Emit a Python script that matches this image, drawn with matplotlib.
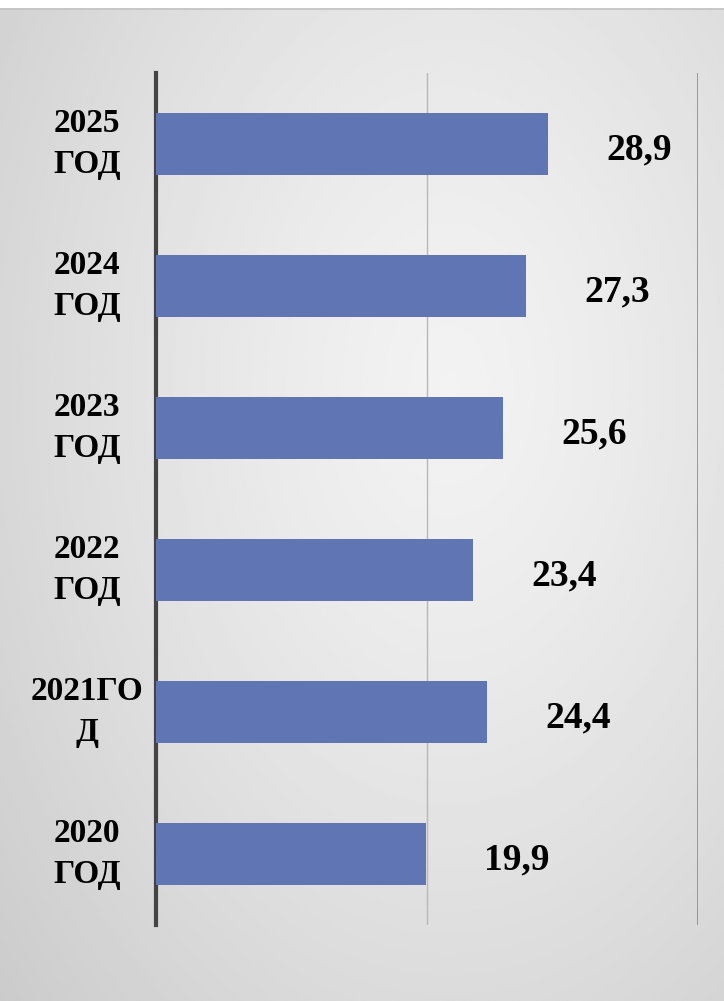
import numpy as np
import matplotlib
matplotlib.use("Agg")
import matplotlib.pyplot as plt
from matplotlib.transforms import blended_transform_factory

years = ["2020\nГОД", "2021ГО\nД", "2022\nГОД", "2023\nГОД", "2024\nГОД", "2025\nГОД"]
values = [19.9, 24.4, 23.4, 25.6, 27.3, 28.9]
value_labels = ["19,9", "24,4", "23,4", "25,6", "27,3", "28,9"]

W, H = 724, 1001
fig = plt.figure(figsize=(W / 100, H / 100), dpi=100)
fig.patch.set_facecolor("white")

# background: soft radial gray gradient
bg = fig.add_axes([0, 0, 1, 1 - 8 / H], zorder=-10)
yy, xx = np.mgrid[0:1:400j, 0:1:300j]
r = np.sqrt(((xx - 0.62) / 0.9) ** 2 + ((yy - 0.38) / 1.0) ** 2)
shade = 0.95 - 0.17 * np.clip(r, 0, 1) ** 1.3
bg.imshow(shade, cmap="gray", vmin=0, vmax=1, extent=[0, 1, 0, 1],
          origin="upper", aspect="auto", interpolation="bilinear")
bg.axis("off")
fig.add_artist(plt.Line2D([0, 1], [1 - 8.5 / H, 1 - 8.5 / H],
                          transform=fig.transFigure, color="#c4c4c4", lw=1.2))

ax = fig.add_axes([156 / W, 1 - 925 / H, (698 - 156) / W, (925 - 73) / H])
ax.patch.set_alpha(0)

y = np.arange(len(values))
ax.barh(y, values, height=0.44, color="#6076b4", zorder=3)
ax.set_xlim(0, 40)
ax.set_ylim(-0.5, len(values) - 0.5)

ax.axvline(20, color="#b8b8b8", lw=1.0, zorder=1)
ax.axvline(40, color="#8c8c8c", lw=1.2, zorder=1)

for s in ["top", "right", "bottom"]:
    ax.spines[s].set_visible(False)
ax.spines["left"].set_color("#444444")
ax.spines["left"].set_linewidth(3)
ax.set_xticks([])
ax.set_yticks([])

tr = blended_transform_factory(ax.transAxes, ax.transData)
for yi, lab in zip(y, years):
    ax.text(-0.127, yi, lab, transform=tr, ha="center", va="center",
            fontsize=24, fontweight="bold", family="Liberation Serif",
            linespacing=1.4, multialignment="center")

for yi, v, lab in zip(y, values, value_labels):
    ax.annotate(lab, (v, yi), xytext=(42, -4), textcoords="offset points",
                ha="left", va="center", fontsize=27, fontweight="bold",
                family="Liberation Serif")

fig.savefig("out.png", dpi=100)
